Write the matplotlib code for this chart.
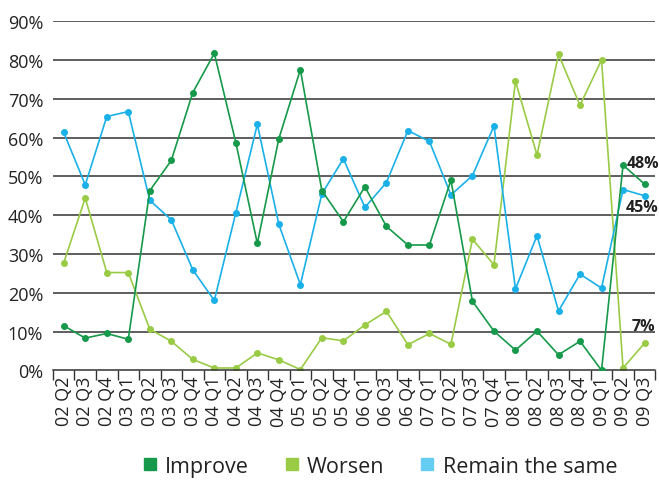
import numpy as np
import matplotlib.pyplot as plt
from matplotlib.lines import Line2D

plt.rcParams['font.family'] = ['Open Sans', 'DejaVu Sans']

# quarters (05 Q3 and 06 Q2 are not in the survey)
quarters = ["02 Q2", "02 Q3", "02 Q4", "03 Q1", "03 Q2", "03 Q3", "03 Q4",
            "04 Q1", "04 Q2", "04 Q3", "04 Q4", "05 Q1", "05 Q2", "05 Q4",
            "06 Q1", "06 Q3", "06 Q4", "07 Q1", "07 Q2", "07 Q3", "07 Q4",
            "08 Q1", "08 Q2", "08 Q3", "08 Q4", "09 Q1", "09 Q2", "09 Q3"]

improve = [11.5, 8.3, 9.5, 8.0, 46.3, 54.1, 71.6, 81.7, 58.7, 32.7, 59.7, 77.5,
           46.3, 38.3, 47.3, 37.1, 32.3, 32.3, 49.0, 17.8, 10.1, 5.2, 10.1, 4.0,
           7.5, 0.0, 52.9, 48]
worsen = [27.7, 44.4, 25.2, 25.2, 10.6, 7.5, 2.8, 0.6, 0.6, 4.5, 2.7, 0.2,
          8.4, 7.6, 11.7, 15.2, 6.6, 9.5, 6.7, 33.8, 27.2, 74.5, 55.5, 81.4,
          68.3, 80.0, 0.6, 7]
same = [61.3, 47.8, 65.4, 66.7, 43.8, 38.8, 25.9, 18.0, 40.6, 63.4, 37.6, 22.1,
        45.5, 54.5, 42.0, 48.4, 61.8, 59.0, 45.2, 50.2, 63.0, 21.0, 34.7, 15.3,
        24.8, 21.2, 46.6, 45]

c_imp = "#16994a"
c_wor = "#9acb45"
c_same = "#1ab0e8"
c_same_key = "#66cdf2"

fig = plt.figure(figsize=(6.59, 4.81), dpi=100)
ax = fig.add_axes([0.0804, 0.228, 0.914, 0.726])

x = np.arange(len(quarters))

for v in range(10, 100, 10):
    ax.axhline(v, color="#333333", lw=1.1, zorder=1)

ax.plot(x, same, color=c_same, lw=1.2, marker="o", ms=4, zorder=3)
ax.plot(x, improve, color=c_imp, lw=1.2, marker="o", ms=4, zorder=4)
ax.plot(x, worsen, color=c_wor, lw=1.2, marker="o", ms=4, zorder=2)

ax.set_xlim(-0.5, len(quarters) - 0.5)
ax.set_ylim(0, 90)
ax.set_yticks(range(0, 100, 10))
ax.set_yticklabels([f"{v}%" for v in range(0, 100, 10)], fontsize=13, color="#222222")
ax.set_xticks(x)
ax.set_xticklabels(quarters, rotation=90, fontsize=13, color="#222222")
ax.set_xticks(np.arange(-0.5, len(quarters), 1), minor=True)
ax.tick_params(axis="x", which="major", length=0, pad=4)
ax.tick_params(axis="x", which="minor", length=7, width=1, color="#333333", direction="out")
ax.tick_params(axis="y", length=0, pad=7)

for s in ["top", "right", "left"]:
    ax.spines[s].set_visible(False)
ax.spines["bottom"].set_color("#333333")
ax.spines["bottom"].set_linewidth(1.1)

# end-point labels
last = len(quarters) - 1
ax.annotate(f"{improve[-1]}%", (last, improve[-1]), xytext=(-1.4, 15), textcoords="offset points",
            ha="center", va="center", fontsize=11.5, fontweight="bold", color="#222222", annotation_clip=False)
ax.annotate(f"{same[-1]}%", (last, same[-1]), xytext=(-1.4, -8.4), textcoords="offset points",
            ha="center", va="center", fontsize=11.5, fontweight="bold", color="#222222", annotation_clip=False)
ax.annotate(f"{worsen[-1]}%", (last, worsen[-1]), xytext=(-0.7, 12.3), textcoords="offset points",
            ha="center", va="center", fontsize=11.5, fontweight="bold", color="#222222", annotation_clip=False)

handles = [Line2D([], [], ls="none", marker="s", ms=8.5, color=c) for c in (c_imp, c_wor, c_same_key)]
fig.legend(handles, ["Improve", "Worsen", "Remain the same"], loc="center", bbox_to_anchor=(0.577, 0.028),
           ncol=3, frameon=False, fontsize=15.5, handlelength=0.6, handletextpad=0.4, columnspacing=1.7,
           labelcolor="#222222")

fig.savefig("out.png", dpi=100)
